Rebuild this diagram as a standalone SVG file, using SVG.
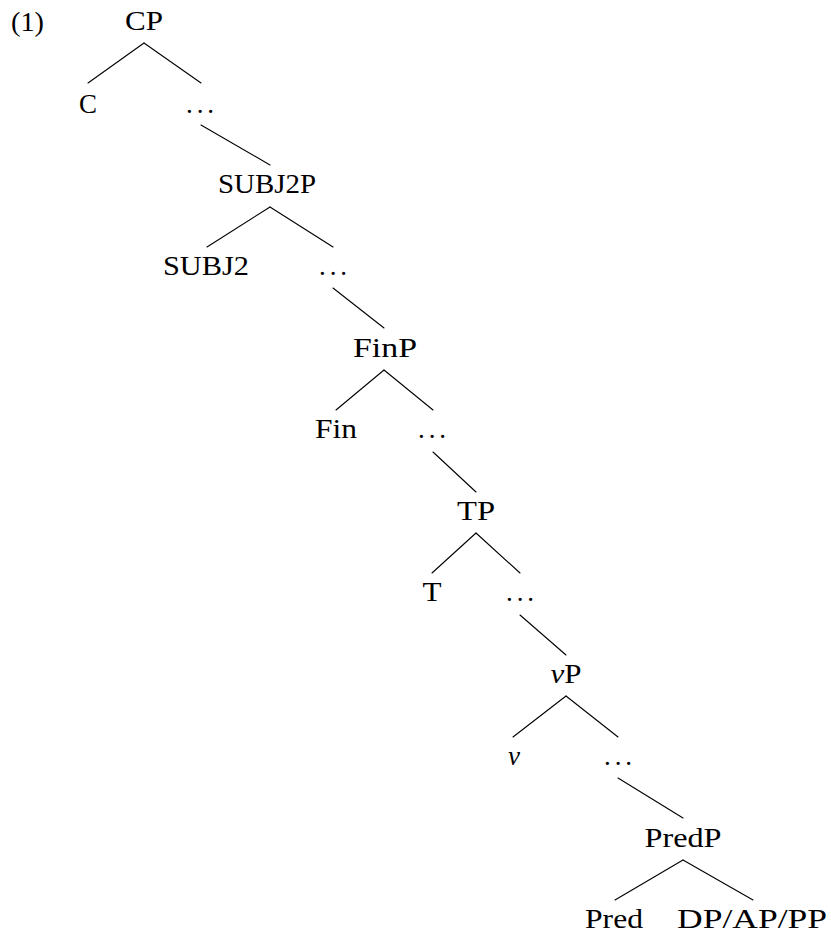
<svg xmlns="http://www.w3.org/2000/svg" width="831" height="934" viewBox="0 0 831 934">
<style>
text{font-family:"Liberation Serif","Times New Roman",serif;font-size:27px;fill:#000;text-anchor:middle}
.e{stroke:#000;stroke-width:1.1;fill:none;stroke-linecap:round}
.i{font-style:italic}
</style>
<rect width="831" height="934" fill="#fff"/>
<text x="11" y="31" style="text-anchor:start" textLength="33" lengthAdjust="spacingAndGlyphs">(1)</text>
<g id="edges">
<line class="e" x1="144" y1="43" x2="88" y2="83"/>
<line class="e" x1="144" y1="43" x2="201" y2="83"/>
<line class="e" x1="201" y1="125" x2="270" y2="165"/>
<line class="e" x1="270" y1="207" x2="207" y2="247"/>
<line class="e" x1="270" y1="207" x2="333" y2="247"/>
<line class="e" x1="333" y1="288" x2="384" y2="328"/>
<line class="e" x1="384" y1="370" x2="336" y2="410"/>
<line class="e" x1="384" y1="370" x2="433" y2="410"/>
<line class="e" x1="433" y1="452" x2="476" y2="492"/>
<line class="e" x1="476" y1="533" x2="432" y2="573"/>
<line class="e" x1="476" y1="533" x2="520" y2="573"/>
<line class="e" x1="520" y1="615" x2="566" y2="655"/>
<line class="e" x1="566" y1="696" x2="513" y2="737"/>
<line class="e" x1="566" y1="696" x2="618" y2="737"/>
<line class="e" x1="618" y1="778" x2="683" y2="818"/>
<line class="e" x1="683" y1="860" x2="615" y2="900"/>
<line class="e" x1="683" y1="860" x2="753" y2="900"/>
</g>
<g id="CP"><text x="144" y="30" textLength="38" lengthAdjust="spacingAndGlyphs">CP</text></g>
<g id="C"><text x="88" y="113" textLength="18" lengthAdjust="spacingAndGlyphs">C</text></g>
<g id="dots1"><text x="200" y="113" textLength="28" lengthAdjust="spacing">...</text></g>
<g id="SUBJ2P"><text x="267" y="193" textLength="98" lengthAdjust="spacingAndGlyphs">SUBJ2P</text></g>
<g id="SUBJ2"><text x="206" y="275" textLength="86" lengthAdjust="spacingAndGlyphs">SUBJ2</text></g>
<g id="dots2"><text x="333" y="275" textLength="28" lengthAdjust="spacing">...</text></g>
<g id="FinP"><text x="385" y="357" textLength="64" lengthAdjust="spacingAndGlyphs">FinP</text></g>
<g id="Fin"><text x="336" y="438" textLength="42" lengthAdjust="spacingAndGlyphs">Fin</text></g>
<g id="dots3"><text x="432" y="438" textLength="28" lengthAdjust="spacing">...</text></g>
<g id="TP"><text x="476" y="520" textLength="38" lengthAdjust="spacingAndGlyphs">TP</text></g>
<g id="T"><text x="432" y="601" textLength="19" lengthAdjust="spacingAndGlyphs">T</text></g>
<g id="dots4"><text x="520" y="601" textLength="28" lengthAdjust="spacing">...</text></g>
<g id="vP"><text x="566" y="683" textLength="31" lengthAdjust="spacingAndGlyphs"><tspan class="i">v</tspan>P</text></g>
<g id="v"><text x="514" y="765" class="i" textLength="12" lengthAdjust="spacingAndGlyphs">v</text></g>
<g id="dots5"><text x="618" y="765" textLength="28" lengthAdjust="spacing">...</text></g>
<g id="PredP"><text x="683" y="847" textLength="77" lengthAdjust="spacingAndGlyphs">PredP</text></g>
<g id="Pred"><text x="614" y="928" textLength="58" lengthAdjust="spacingAndGlyphs">Pred</text></g>
<g id="DPAPPP"><text x="752" y="928" textLength="150" lengthAdjust="spacingAndGlyphs">DP/AP/PP</text></g>
</svg>
